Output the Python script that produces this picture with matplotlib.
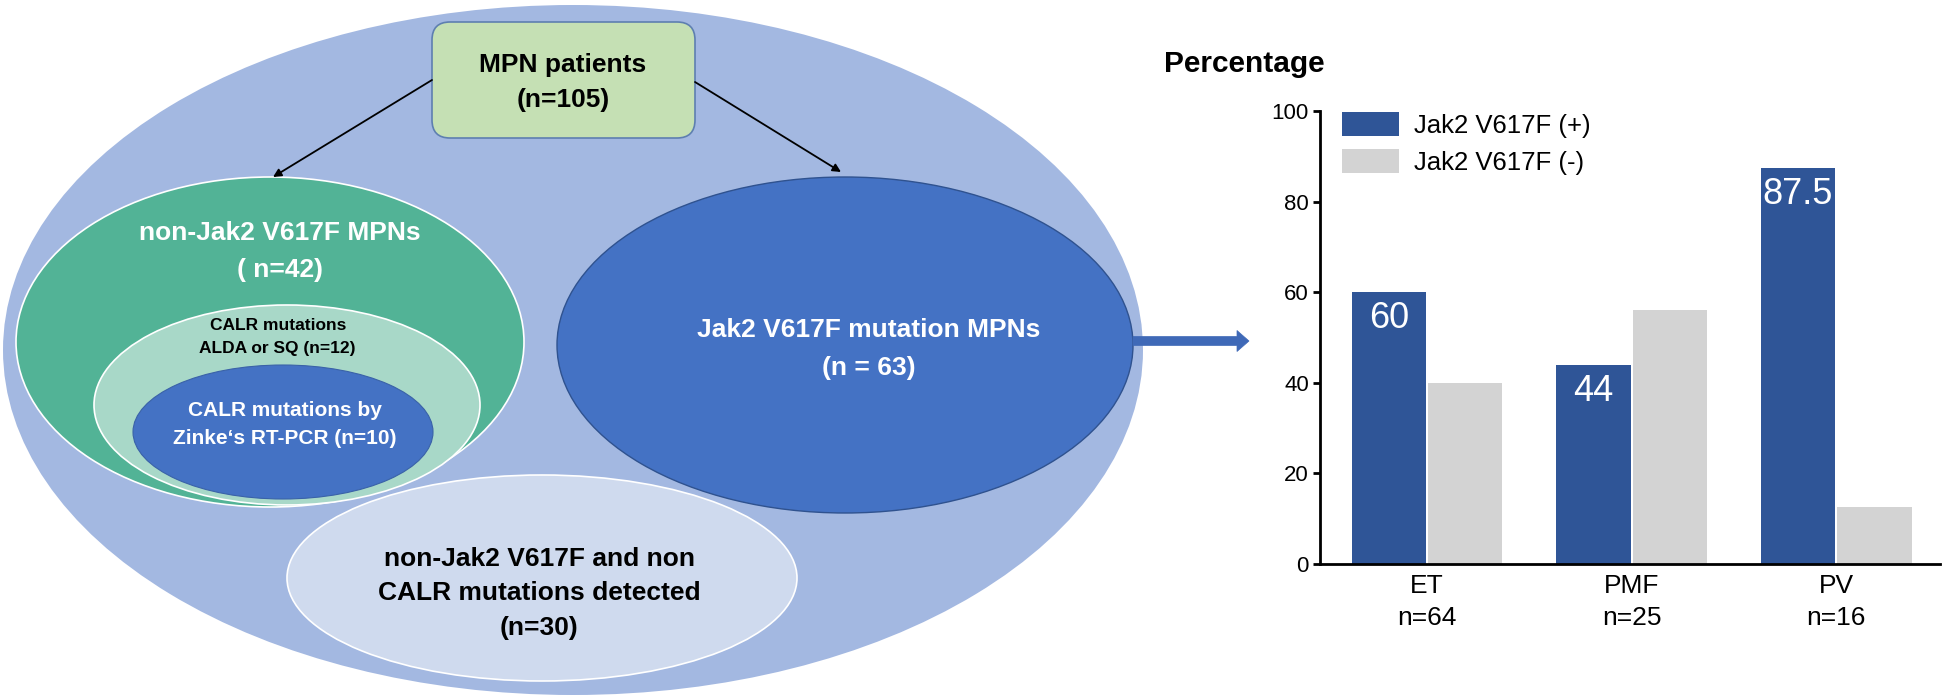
import matplotlib
matplotlib.use('Agg')
import matplotlib.pyplot as plt
from matplotlib.patches import Ellipse, FancyBboxPatch, FancyArrow
import numpy as np

plt.rcParams['font.family'] = ['Liberation Sans', 'DejaVu Sans']

# ---------------- data ----------------
categories = ['ET', 'PMF', 'PV']
group_n = [64, 25, 16]
jak2_pos = [60, 44, 87.5]
jak2_neg = [40, 56, 12.5]
pos_labels = ['60', '44', '87.5']
series_names = ['Jak2 V617F (+)', 'Jak2 V617F (-)']
y_ticks = [0, 20, 40, 60, 80, 100]
y_label = 'Percentage'

W, H = 1946, 700
fig = plt.figure(figsize=(W / 100, H / 100), dpi=100)

# ---------------- left diagram (pixel coordinates) ----------------
axd = fig.add_axes([0, 0, 1, 1])
axd.set_xlim(0, W)
axd.set_ylim(H, 0)
axd.axis('off')


def ell(cx, cy, w, h, fc, ec='none', lw=0.0, z=1):
    axd.add_patch(Ellipse((cx, cy), w, h, facecolor=fc, edgecolor=ec,
                          linewidth=lw, zorder=z))


ell(573, 350, 1140, 690, '#A3B8E1', z=1)
ell(270, 342, 508, 330, '#52B396', ec='white', lw=1.2, z=2)
ell(287, 405, 386, 200, '#A8D8C8', ec='white', lw=1.2, z=3)
ell(283, 432, 300, 134, '#4472C4', ec='#3A62A8', lw=0.8, z=4)
ell(845, 345, 576, 336, '#4472C4', ec='#2F528F', lw=1.0, z=2)
ell(542, 578, 510, 206, '#CFDAEE', ec='white', lw=1.2, z=2)

axd.add_patch(FancyBboxPatch((432, 22), 263, 116,
                             boxstyle='round,pad=0,rounding_size=18',
                             facecolor='#C5E0B4', edgecolor='#5E7FB0',
                             linewidth=1.2, zorder=5))

arrow_kw = dict(arrowstyle='-|>', color='black', lw=1.3, mutation_scale=12,
                shrinkA=0, shrinkB=0)
axd.annotate('', xy=(273, 177), xytext=(432, 80), arrowprops=arrow_kw, zorder=6)
axd.annotate('', xy=(841, 172), xytext=(695, 82), arrowprops=arrow_kw, zorder=6)

axd.add_patch(FancyArrow(1133, 341, 116, 0, width=9, head_width=21,
                         head_length=12, length_includes_head=True,
                         facecolor='#3F69B7', edgecolor='#3F69B7',
                         linewidth=0.5, zorder=6))


def txt(x, y, s, size, color='black', weight='bold'):
    axd.text(x, y, s, ha='center', va='center', fontsize=size, color=color,
             fontweight=weight, zorder=7)


txt(563, 65, 'MPN patients', 19)
txt(563, 100, '(n=105)', 19)
txt(280, 233, 'non-Jak2 V617F MPNs', 19, 'white')
txt(280, 270, '( n=42)', 19, 'white')
txt(278, 325, 'CALR mutations', 12.5)
txt(277, 349, 'ALDA or SQ (n=12)', 12.5)
txt(285, 411, 'CALR mutations by', 15, 'white')
txt(285, 438, 'Zinke\u2018s RT-PCR (n=10)', 15, 'white')
txt(869, 330, 'Jak2 V617F mutation MPNs', 19, 'white')
txt(869, 368, '(n = 63)', 19, 'white')
txt(539, 559, 'non-Jak2 V617F and non', 19)
txt(539, 593, 'CALR mutations detected', 19)
txt(539, 628, '(n=30)', 19)

axd.text(1164, 64, y_label, ha='left', va='center', fontsize=21.5,
         fontweight='bold', zorder=7)

# ---------------- bar chart ----------------
ax = fig.add_axes([1320 / W, (H - 564) / H, (1940 - 1320) / W, (564 - 111) / H])
ax.set_facecolor('none')
x = np.arange(len(categories))
bw, off = 0.364, 0.187
b1 = ax.bar(x - off, jak2_pos, bw, color='#2F5597', label=series_names[0])
b2 = ax.bar(x + off, jak2_neg, bw, color='#D3D3D3', label=series_names[1])
ax.set_xlim(-0.523, 2.508)
ax.set_ylim(0, 100)
for s in ['top', 'right']:
    ax.spines[s].set_visible(False)
for s in ['left', 'bottom']:
    ax.spines[s].set_linewidth(2)
ax.set_yticks(y_ticks)
ax.tick_params(axis='y', labelsize=16, length=5, width=2, pad=3)
ax.set_xticks(x)
ax.set_xticklabels([f'{c}\nn={n}' for c, n in zip(categories, group_n)])
ax.tick_params(axis='x', labelsize=19, length=0, pad=7)
for lab in ax.get_xticklabels():
    lab.set_linespacing(1.42)

for xi, v, lab in zip(x, jak2_pos, pos_labels):
    ax.annotate(lab, (xi - off, v), xytext=(0, -19), textcoords='offset points',
                ha='center', va='center', color='white', fontsize=26)

ax.legend(loc='upper left', bbox_to_anchor=(1342 / W, 1 - 112 / H),
          bbox_transform=fig.transFigure, frameon=False, fontsize=18.5,
          handlelength=2.2, handleheight=1.05, handletextpad=0.6,
          labelspacing=0.45, borderpad=0, borderaxespad=0)

fig.savefig('out.png', dpi=100)
